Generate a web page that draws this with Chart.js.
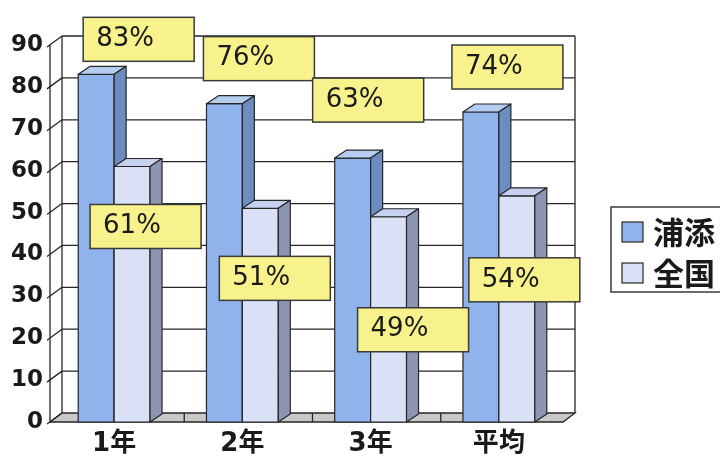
<!DOCTYPE html>
<html>
<head>
<meta charset="utf-8">
<script src="https://cdn.jsdelivr.net/npm/chart.js@4"></script>
<style>
  html, body { margin: 0; padding: 0; background: #fff; }
</style>
</head>
<body>
<canvas id="grafica" width="720" height="458"></canvas>
<script>
const categories = ['1年', '2年', '3年', '平均'];
const seriesNames = ['浦添', '全国'];
const urasoe = [83, 76, 63, 74];
const zenkoku = [61, 51, 49, 54];
const yMin = 0, yMax = 90, yStep = 10;

// where each value box sits, relative to the top of its bar (left, top)
const urasoeLabelPos = [[-13, -57], [-21, -67], [-40, -80], [-29, -67]];
const zenkokuLabelPos = [[-42, 38], [-41, 48], [-31, 91], [-48, 62]];

const DX = 12, DY = -9;        // depth of the walls
const BDX = 12, BDY = -8;      // depth of the bars
const INK = '#262626';

const faces = [
    { front: '#8fb3ea', top: '#b6cdf2', side: '#6d8cbf' },
    { front: '#dae1f7', top: '#c6d0ef', side: '#8c96b2' }
];

function poly(ctx, pts, fill) {
    ctx.beginPath();
    ctx.moveTo(pts[0][0], pts[0][1]);
    for (let i = 1; i < pts.length; i++) ctx.lineTo(pts[i][0], pts[i][1]);
    ctx.closePath();
    if (fill) { ctx.fillStyle = fill; ctx.fill(); }
    ctx.stroke();
}

function line(ctx, x1, y1, x2, y2) {
    ctx.beginPath();
    ctx.moveTo(x1, y1);
    ctx.lineTo(x2, y2);
    ctx.stroke();
}

const box3d = {
    id: 'box3d',
    beforeDatasetsDraw(chart) {
        const { ctx, chartArea: { left, right }, scales: { x, y } } = chart;
        const y0 = y.getPixelForValue(yMin);
        const yTop = y.getPixelForValue(yMax);
        ctx.save();
        ctx.strokeStyle = INK;
        ctx.lineWidth = 1.3;

        // floor
        poly(ctx, [[left, y0], [right, y0], [right + DX, y0 + DY], [left + DX, y0 + DY]], '#c8c8c8');
        for (let i = 1; i < categories.length; i++) {
            const bx = (x.getPixelForValue(i - 1) + x.getPixelForValue(i)) / 2;
            line(ctx, bx + DX / 2, y0 + DY, bx + DX / 2, y0);
        }

        // back wall grid and left wall ticks
        y.ticks.forEach(t => {
            const py = y.getPixelForValue(t.value);
            if (t.value > yMin) line(ctx, left + DX, py + DY, right + DX, py + DY);
            line(ctx, left - 3, py + 2, left + DX, py + DY);
        });
        line(ctx, left, yTop, left, y0);
        line(ctx, left + DX, yTop + DY, left + DX, y0 + DY);
        line(ctx, right + DX, yTop + DY, right + DX, y0 + DY);
        ctx.restore();
    },
    afterDatasetsDraw(chart) {
        const { ctx } = chart;
        const metas = [chart.getDatasetMeta(0), chart.getDatasetMeta(1)];
        ctx.save();
        ctx.strokeStyle = INK;
        ctx.lineWidth = 1.2;
        ctx.lineJoin = 'round';
        for (let i = 0; i < categories.length; i++) {
            metas.forEach((m, d) => {
                const { x: cx, y: ty, base, width } = m.data[i].getProps(['x', 'y', 'base', 'width'], true);
                const l = cx - width / 2, r = cx + width / 2;
                const f = faces[d];
                poly(ctx, [[l, ty], [r, ty], [r, base], [l, base]], f.front);
                poly(ctx, [[l, ty], [r, ty], [r + BDX, ty + BDY], [l + BDX, ty + BDY]], f.top);
                poly(ctx, [[r, ty], [r + BDX, ty + BDY], [r + BDX, base + BDY], [r, base]], f.side);
            });
        }
        ctx.restore();
    },
    afterDraw(chart) {
        const { ctx } = chart;
        ctx.save();

        // value boxes
        const positions = [urasoeLabelPos, zenkokuLabelPos];
        ctx.font = '26px "DejaVu Sans"';
        ctx.textBaseline = 'middle';
        ctx.textAlign = 'left';
        chart.data.datasets.forEach((ds, d) => {
            const meta = chart.getDatasetMeta(d);
            ds.data.forEach((v, i) => {
                const { x: cx, y: ty } = meta.data[i].getProps(['x', 'y'], true);
                const bx = cx + positions[d][i][0];
                const by = ty + positions[d][i][1];
                ctx.fillStyle = '#f7f28c';
                ctx.strokeStyle = '#3a3a3a';
                ctx.lineWidth = 1.5;
                ctx.fillRect(bx, by, 111, 44);
                ctx.strokeRect(bx, by, 111, 44);
                ctx.fillStyle = '#1a1a1a';
                ctx.fillText(v + '%', bx + 13, by + 22);
            });
        });

        // legend
        ctx.strokeStyle = '#3a3a3a';
        ctx.lineWidth = 1.5;
        ctx.strokeRect(611, 207, 115, 85);
        ctx.font = 'bold 31px "Noto Sans CJK JP"';
        seriesNames.forEach((name, d) => {
            const sy = 222 + d * 41;
            ctx.fillStyle = faces[d].front;
            ctx.fillRect(622, sy, 21, 20);
            ctx.strokeStyle = INK;
            ctx.lineWidth = 1.2;
            ctx.strokeRect(622, sy, 21, 20);
            ctx.fillStyle = '#1a1a1a';
            ctx.fillText(name, 653, sy + 10);
        });
        ctx.restore();
    }
};

new Chart(document.getElementById('grafica').getContext('2d'), {
    type: 'bar',
    data: {
        labels: categories,
        datasets: [
            { label: seriesNames[0], data: urasoe, backgroundColor: faces[0].front, borderWidth: 0 },
            { label: seriesNames[1], data: zenkoku, backgroundColor: faces[1].front, borderWidth: 0 }
        ]
    },
    options: {
        responsive: false,
        animation: false,
        devicePixelRatio: 1,
        layout: { padding: { top: 45, right: 157, left: 0, bottom: 0 } },
        datasets: { bar: { categoryPercentage: 0.56, barPercentage: 1.0 } },
        plugins: { legend: { display: false }, tooltip: { enabled: false } },
        scales: {
            x: {
                grid: { display: false, drawTicks: false },
                border: { display: false },
                ticks: {
                    color: '#1a1a1a',
                    padding: 7,
                    font: { family: '"DejaVu Sans", "Noto Sans CJK JP"', size: 26, weight: 'bold' }
                },
                afterFit(s) { s.height = 36; }
            },
            y: {
                min: yMin,
                max: yMax,
                grid: { display: false, drawTicks: false },
                border: { display: false },
                ticks: {
                    stepSize: yStep,
                    color: '#1a1a1a',
                    padding: 7,
                    font: { family: '"DejaVu Sans"', size: 23, weight: 'bold' }
                },
                afterFit(s) { s.width = 50; }
            }
        }
    },
    plugins: [box3d]
});
</script>
</body>
</html>
